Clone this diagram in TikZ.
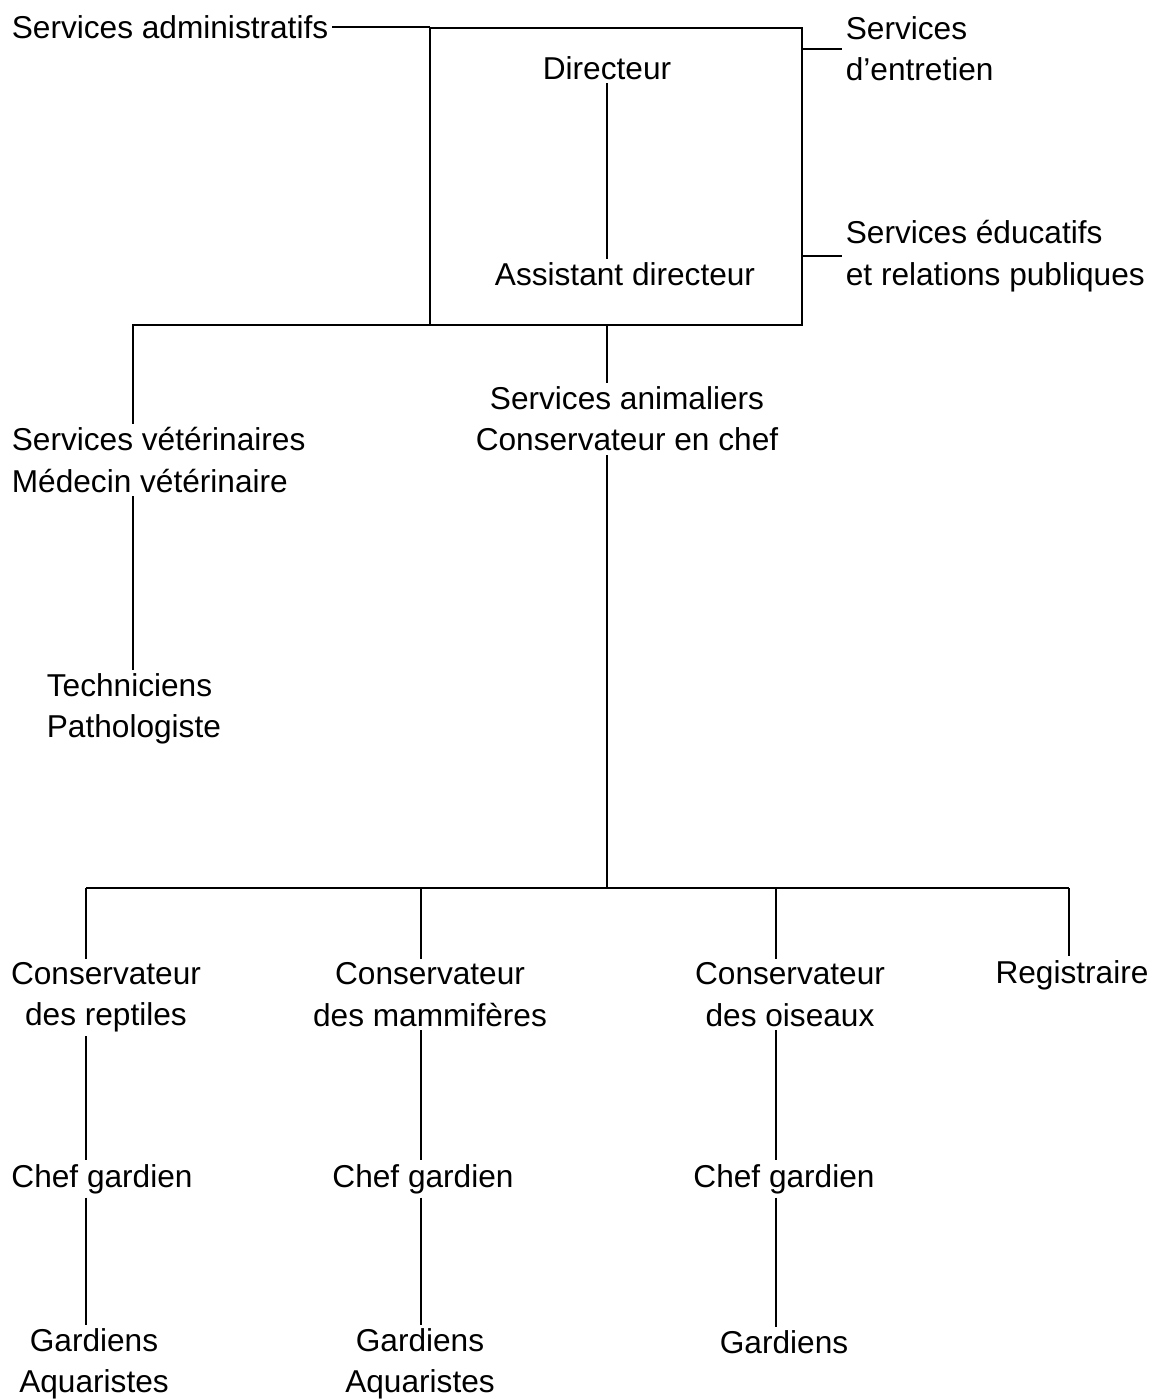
\documentclass[tikz,border=0pt]{standalone}
\usepackage{fontspec}
\setmainfont{Liberation Sans}
\tikzstyle{dept} = [inner sep=2pt, font=\fontsize{18}{23.5}\selectfont, align=left]
\tikzstyle{deptc} = [dept, align=center]
\tikzstyle{board} = [rectangle, draw=black, line width=1.5pt, outer sep=0pt, minimum width=7.44cm, minimum height=5.94cm]
\tikzstyle{line} = [line width=1.5pt, -]

\begin{document}
\begin{tikzpicture}[x=0.02cm, y=-0.02cm]

    \useasboundingbox (0,0) rectangle (1157,1399);

    % direction
    \node (board) [board] at (616,176.5) {};
    \node (dir) [dept] at (607,68) {Directeur};
    \node (asst) [dept] at (625,274) {Assistant directeur};
    \node (admin) [dept, anchor=west] at (8,27) {Services administratifs};
    \node (entretien) [dept, anchor=west] at (842,49) {Services\\d'entretien};
    \node (educ) [dept, anchor=west] at (842,256) {Services éducatifs\\et relations publiques};

    % second level
    \node (veto) [dept, anchor=west] at (8,460) {Services vétérinaires\\Médecin vétérinaire};
    \node (techn) [dept, anchor=west] at (43,709) {Techniciens\\Pathologiste};
    \node (animal) [deptc] at (627,419) {Services animaliers\\Conservateur en chef};

    % curators
    \node (reptiles) [deptc] at (106,997.5) {Conservateur\\des reptiles};
    \node (mammals) [deptc] at (430,994.5) {Conservateur\\des mammifères};
    \node (birds) [deptc] at (790,994.5) {Conservateur\\des oiseaux};
    \node (registrar) [dept] at (1072,975) {Registraire};

    \node (chefR) [dept] at (102,1179) {Chef gardien};
    \node (chefM) [dept] at (423,1179) {Chef gardien};
    \node (chefB) [dept] at (784,1179) {Chef gardien};

    \node (gardR) [deptc] at (94,1364) {Gardiens\\Aquaristes};
    \node (gardM) [deptc] at (420,1364) {Gardiens\\Aquaristes};
    \node (gardB) [dept] at (784,1342) {Gardiens};

    \coordinate (vbranch) at (133,325);
    \coordinate (bus) at (607,888);
    \coordinate (busR) at (86,888);
    \coordinate (busM) at (421,888);
    \coordinate (busB) at (776,888);
    \coordinate (busG) at (1069,888);

    % connectors
    \draw[line] (admin.east) -- (admin.east -| board.west);
    \draw[line] (entretien.west -| board.east) -- (entretien.west);
    \draw[line] (educ.west -| board.east) -- (educ.west);
    \draw[line] (dir.south) -- (dir.south |- asst.north);
    \draw[line] (board.south west) -| (vbranch |- veto.north);
    \draw[line] (vbranch |- veto.south) -- (vbranch |- techn.north);
    \draw[line] (dir.south |- board.south) -- (dir.south |- animal.north);
    \draw[line] (dir.south |- animal.south) -- (bus);
    \draw[line] (busR) -- (busG);

    \draw[line] (busR) -- (busR |- reptiles.north);
    \draw[line] (busR |- reptiles.south) -- (busR |- chefR.north);
    \draw[line] (busR |- chefR.south) -- (busR |- gardR.north);

    \draw[line] (busM) -- (busM |- mammals.north);
    \draw[line] (busM |- mammals.south) -- (busM |- chefM.north);
    \draw[line] (busM |- chefM.south) -- (busM |- gardM.north);

    \draw[line] (busB) -- (busB |- birds.north);
    \draw[line] (busB |- birds.south) -- (busB |- chefB.north);
    \draw[line] (busB |- chefB.south) -- (busB |- gardB.north);

    \draw[line] (busG) -- (busG |- registrar.north);

\end{tikzpicture}
\end{document}
